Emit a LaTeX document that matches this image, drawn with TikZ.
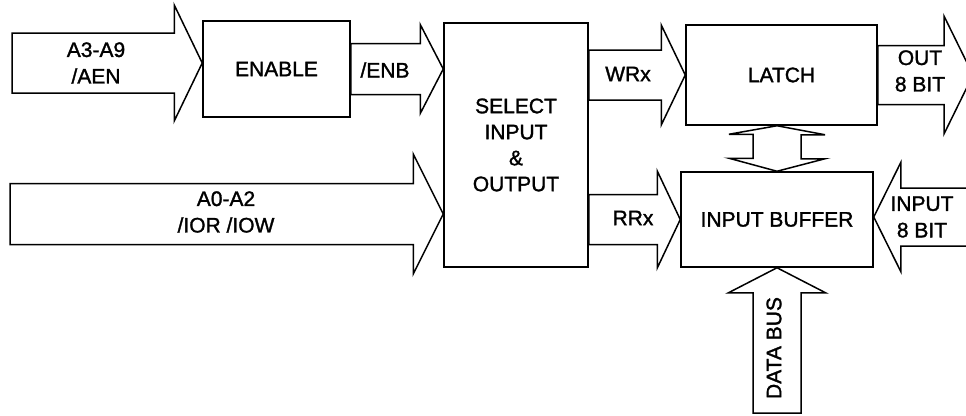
\documentclass[tikz,border=0pt]{standalone}
\usepackage{fontspec}
\setmainfont{Liberation Sans}[FakeBold=1.4]
\usetikzlibrary{calc}

% wide bus arrow: tail, tip, half body, half head, head length
\newcommand{\busarrow}[5]{%
  \draw[bus] let \p1=(#1), \p2=(#2),
    \n1={veclen(\x2-\x1,\y2-\y1)}, \n2={atan2(\y2-\y1,\x2-\x1)} in
    [shift={(\x2,\y2)}, rotate=\n2]
    (0,0) -- (-#5,#4) -- (-#5,#3) -- (-\n1,#3) -- (-\n1,-#3) -- (-#5,-#3) -- (-#5,-#4) -- cycle;}

\begin{document}
\begin{tikzpicture}[
    x=1pt, y=-1pt,
    bus/.style={draw, line width=1.5pt},
    block/.style={draw, line width=1.5pt, align=center, font=\fontsize{21}{26}\selectfont},
    lbl/.style={align=center, font=\fontsize{21}{26.5}\selectfont}
]
\clip (0,0) rectangle (966,415);

\node (enable) [block, minimum width=147, minimum height=96] at (276.5,69) {ENABLE};
\node (select) [block, minimum width=144, minimum height=244] at (516,145) {SELECT\\INPUT\\\&\\OUTPUT};
\node (latch) [block, minimum width=191, minimum height=100] at (781.5,75) {LATCH};
\node (buffer) [block, minimum width=192, minimum height=95] at (777,219.5) {INPUT BUFFER};

\coordinate (a3in) at (12,63);
\coordinate (a0in) at (10,214);
\coordinate (outend) at (973,75);
\coordinate (inend) at (975,217);
\coordinate (busin) at (777,413);

\busarrow{a3in}{enable.west |- a3in}{30}{58}{28}
\busarrow{enable.east}{select.west |- enable.east}{25.5}{44.5}{23}
\busarrow{a0in}{select.west |- a0in}{30.5}{60}{30}
\busarrow{select.east |- latch.west}{latch.west}{25}{50}{24}
\busarrow{latch.east}{outend}{29.5}{59}{29}
\busarrow{select.east |- buffer.west}{buffer.west}{25}{48.5}{23}
\busarrow{inend}{buffer.east |- inend}{29}{54.5}{27}
\busarrow{busin}{buffer.south}{24}{48.5}{25}
\draw[bus] (latch.south -| buffer.north) -- ++(48,9) -- ++(-24,0) -- ++(0,24) -- ++(24,0)
    -- (buffer.north) -- ++(-48,-13) -- ++(24,0) -- ++(0,-24) -- ++(-24,0) -- cycle;

\node (a3lbl) [lbl] at (96,63) {A3-A9\\/AEN};
\node (enblbl) [lbl] at (385,70) {/ENB};
\node (a0lbl) [lbl] at (226,212) {A0-A2\\/IOR /IOW};
\node (wrlbl) [lbl] at (628,74) {WRx};
\node (outlbl) [lbl] at (920,71) {OUT\\8 BIT};
\node (rrlbl) [lbl] at (633,218) {RRx};
\node (inlbl) [lbl] at (922,217) {INPUT\\8 BIT};
\node (buslbl) [lbl, rotate=90] at (774,348) {DATA BUS};
\end{tikzpicture}
\end{document}
